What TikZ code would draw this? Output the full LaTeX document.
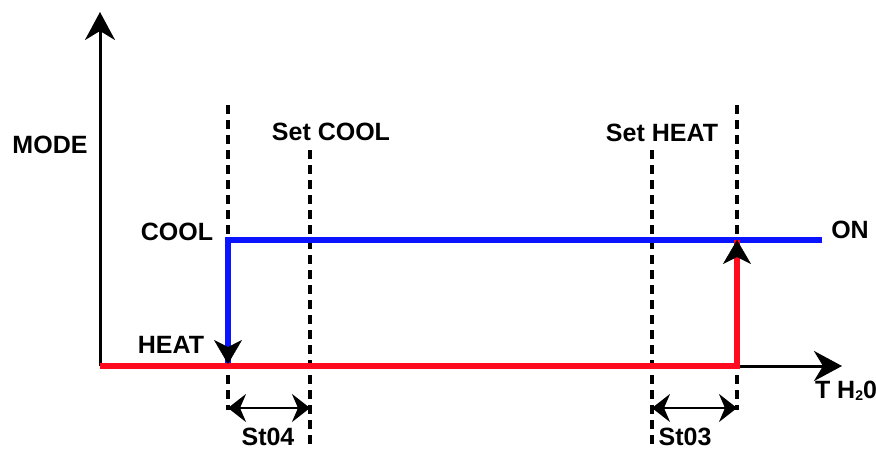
\documentclass[tikz,border=0pt]{standalone}
\usepackage{fontspec}
\setmainfont{Liberation Sans}
\usetikzlibrary{arrows.meta}
\definecolor{lineblue}{RGB}{10,20,255}
\definecolor{linered}{RGB}{255,10,30}
\begin{document}
\begin{tikzpicture}[x=1pt,y=-1pt,
  axisline/.style={line width=3pt,-{Stealth[length=28pt,width=30pt,inset=9pt]}},
  dashv/.style={line width=3.5pt,dash pattern=on 9pt off 6pt},
  lbl/.style={font=\fontsize{25}{30}\selectfont\bfseries,inner sep=0pt,anchor=base},
  dimarrow/.style={line width=2.5pt,{Stealth[length=18pt,width=28pt,inset=6pt]}-{Stealth[length=18pt,width=28pt,inset=6pt]}},
  modeline/.style={line width=6pt},
  modetip/.style={line width=0.5pt,-{Stealth[length=24pt,width=28pt,inset=7pt]}}]
\useasboundingbox (0,0) rectangle (876,450);
% coordinates
\coordinate (O) at (100,366);
\coordinate (ytip) at (100,12);
\coordinate (xtip) at (842,366);
\coordinate (d1t) at (228,105); \coordinate (d1b) at (228,410);
\coordinate (d2t) at (310,150); \coordinate (d2b) at (310,452);
\coordinate (d3t) at (652,150); \coordinate (d3b) at (652,452);
\coordinate (d4t) at (737,105); \coordinate (d4b) at (737,410);
\coordinate (bR) at (822,240); \coordinate (bL) at (228,240); \coordinate (bB) at (228,366);
\coordinate (rC) at (737,366); \coordinate (rT) at (737,240);
\coordinate (bTipS) at (228,350); \coordinate (bTip) at (228,364);
\coordinate (rTipS) at (737,255); \coordinate (rTip) at (737,240);
\coordinate (a1) at (228,408); \coordinate (a2) at (310,408);
\coordinate (a3) at (652,408); \coordinate (a4) at (737,408);
% dashed guides
\draw[dashv] (d1t) -- (d1b);
\draw[dashv] (d2t) -- (d2b);
\draw[dashv] (d3t) -- (d3b);
\draw[dashv] (d4t) -- (d4b);
% axes
\draw[axisline] (O) -- (ytip);
\draw[axisline] (O) -- (xtip);
% mode lines
\draw[modeline,lineblue] (bR) -- (bL) -- (bB);
\draw[modeline,linered] (O) -- (rC) -- (rT);
\draw[modetip] (bTipS) -- (bTip);
\draw[modetip] (rTipS) -- (rTip);
% dimension arrows
\draw[dimarrow] (a1) -- (a2);
\draw[dimarrow] (a3) -- (a4);
% labels
\node[lbl] (mode) at (50,153) {MODE};
\node[lbl] (cool) at (177,240) {COOL};
\node[lbl] (heat) at (171,353) {HEAT};
\node[lbl] (setcool) at (331,140) {Set COOL};
\node[lbl] (setheat) at (662,141) {Set HEAT};
\node[lbl] (on) at (850,238) {ON};
\node[lbl] (th) at (846,398) {T H\raisebox{-0.1em}{\fontsize{14}{16}\selectfont 2}0};
\node[lbl] (st04) at (268,445) {St04};
\node[lbl] (st03) at (685,445) {St03};
\end{tikzpicture}
\end{document}
